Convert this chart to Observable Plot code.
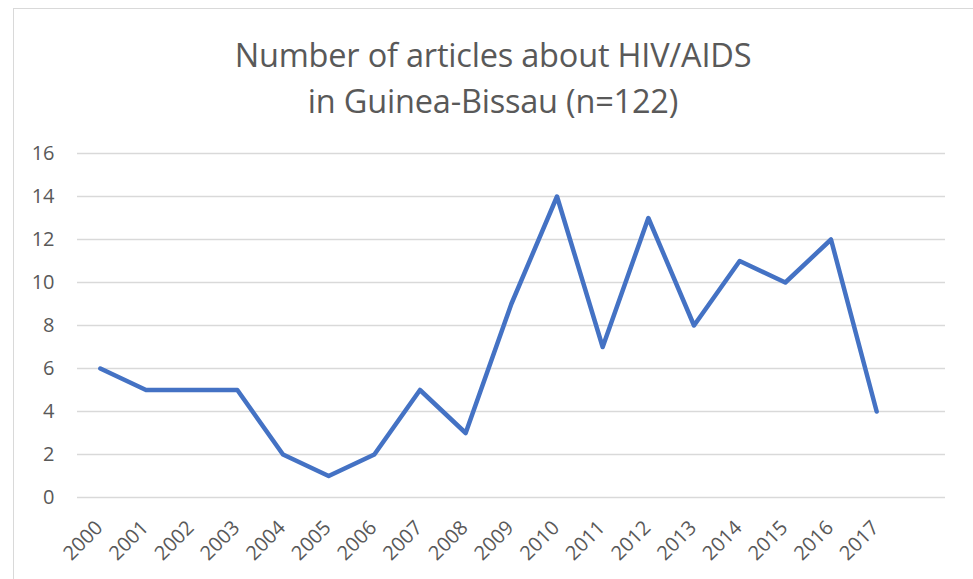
<!DOCTYPE html>
<html>
<head>
<meta charset="utf-8">
<script src="https://cdn.jsdelivr.net/npm/d3@7"></script>
<script src="https://cdn.jsdelivr.net/npm/@observablehq/plot@0.6"></script>
<style>
  html, body { margin: 0; padding: 0; background: #fff; overflow: hidden; }
  body { width: 973px; height: 579px; position: relative; font-family: "Open Sans", "Noto Sans", sans-serif; }
  #frame { position: absolute; left: 13px; top: 8px; width: 1000px; height: 640px; border: 1px solid #d9d9d9; box-sizing: border-box; }
  #title { position: absolute; left: 0; top: 0; width: 986px; height: 130px; text-align: center; color: #595959;
           font-size: 32.5px; line-height: 46px; padding-top: 32px; box-sizing: border-box; font-family: "Open Sans", sans-serif; letter-spacing: -0.2px; }
  #chart { position: absolute; left: 0; top: 130px; }
  #chart svg text { font-family: "Open Sans", sans-serif !important; }
</style>
</head>
<body>
<div id="frame"></div>
<div id="title">Number of articles about HIV/AIDS<br>in Guinea-Bissau (n=122)</div>
<div id="chart"></div>
<script>
const years = ["2000","2001","2002","2003","2004","2005","2006","2007","2008","2009","2010","2011","2012","2013","2014","2015","2016","2017"];
const articles = [6,5,5,5,2,1,2,5,3,9,14,7,13,8,11,10,12,4];
const yTicks = [0,2,4,6,8,10,12,14,16];

const data = years.map((y, i) => ({year: y, n: articles[i]}));

const chart = Plot.plot({
  width: 973,
  height: 449,
  marginLeft: 77,
  marginRight: 28,
  marginTop: 23,
  marginBottom: 82,
  style: {fontFamily: "'Open Sans', sans-serif", fontSize: "20px", color: "#595959", background: "transparent"},
  x: {type: "point", domain: years, padding: 0.5, insetRight: 46, round: false, axis: null},
  y: {domain: [0, 16], ticks: yTicks},
  marks: [
    Plot.gridY(yTicks, {stroke: "#d9d9d9", strokeOpacity: 1, strokeWidth: 1.3}),
    Plot.axisY(yTicks, {tickSize: 0, tickPadding: 23, label: null, fill: "#595959", fontSize: 20}),
    Plot.text(years, {x: d => d, frameAnchor: "bottom", rotate: -45, textAnchor: "end", lineAnchor: "middle",
                      dy: 27, dx: -1, fill: "#595959", fontSize: 20}),
    Plot.line(data, {x: "year", y: "n", stroke: "#4472C4", strokeWidth: 4.5, strokeLinejoin: "round", strokeLinecap: "round"})
  ]
});
document.getElementById("chart").appendChild(chart);
</script>
</body>
</html>
